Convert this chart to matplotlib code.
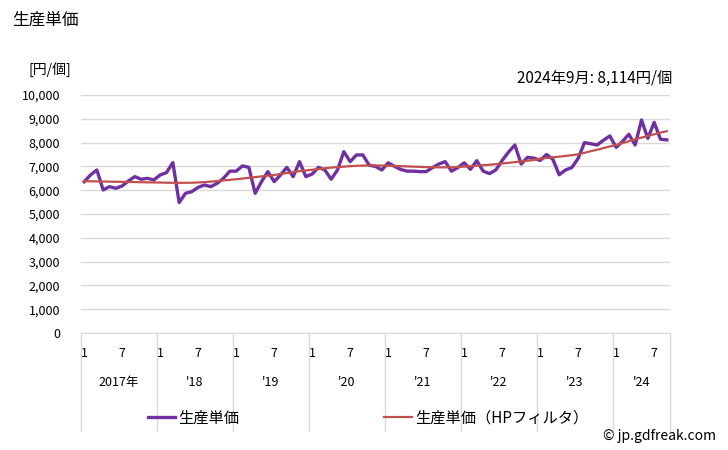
import matplotlib
matplotlib.use("Agg")
import matplotlib.pyplot as plt
import matplotlib.transforms as mtransforms
import numpy as np

plt.rcParams['font.family'] = ['Noto Sans CJK JP', 'DejaVu Sans']

# monthly unit price, Jan 2017 - Sep 2024 (yen / piece)
price = [
    6357, 6640, 6850, 6010, 6150, 6080, 6180, 6390, 6570, 6460, 6500, 6430,  # 2017
    6640, 6740, 7160, 5480, 5870, 5940, 6120, 6220, 6150, 6290, 6500, 6800,  # 2018
    6800, 7020, 6960, 5870, 6360, 6780, 6360, 6640, 6960, 6570, 7200, 6570,  # 2019
    6680, 6960, 6850, 6460, 6850, 7620, 7200, 7480, 7480, 7050, 7000, 6850,  # 2020
    7150, 7000, 6870, 6800, 6800, 6780, 6780, 6950, 7100, 7200, 6800, 6950,  # 2021
    7150, 6880, 7240, 6800, 6700, 6850, 7250, 7600, 7900, 7100, 7380, 7350,  # 2022
    7250, 7500, 7300, 6650, 6850, 6950, 7340, 8000, 7950, 7900, 8100, 8280,  # 2023
    7800, 8050, 8350, 7900, 8950, 8180, 8850, 8140, 8114,                    # 2024
]
# HP-filtered trend
price_hp = [
    6380, 6375, 6370, 6365, 6360, 6355, 6350, 6345, 6340, 6335, 6330, 6325,
    6320, 6315, 6312, 6310, 6310, 6315, 6325, 6340, 6360, 6385, 6410, 6435,
    6460, 6490, 6520, 6550, 6580, 6610, 6640, 6680, 6720, 6760, 6800, 6830,
    6860, 6890, 6920, 6950, 6970, 6990, 7010, 7025, 7035, 7040, 7040, 7035,
    7030, 7020, 7010, 7000, 6990, 6980, 6970, 6965, 6960, 6960, 6965, 6975,
    6990, 7010, 7030, 7050, 7070, 7095, 7120, 7150, 7180, 7210, 7240, 7270,
    7330, 7350, 7380, 7410, 7440, 7470, 7510, 7570, 7640, 7700, 7770, 7840,
    7900, 7980, 8060, 8140, 8210, 8280, 8350, 8420, 8480,
]
year_labels = ['2017年', "'18", "'19", "'20", "'21", "'22", "'23", "'24"]
month_labels = ['1', '7']
yticks = [0, 1000, 2000, 3000, 4000, 5000, 6000, 7000, 8000, 9000, 10000]

purple = '#7030A0'
red = '#C0504D'
grid_c = '#D9D9D9'

W, H = 728, 450
fig = plt.figure(figsize=(W / 100, H / 100), dpi=100)
left, right, top, bottom = 81, 670, 95, 333
ax = fig.add_axes([left / W, 1 - bottom / H, (right - left) / W, (bottom - top) / H])

n = len(price)
x = np.arange(n)
ax.plot(x, price, color=purple, lw=2.4, label='生産単価', zorder=3)
ax.plot(x, price_hp, color=red, lw=1.6, label='生産単価（HPフィルタ）', zorder=4)

ax.set_xlim(-0.5, n - 0.5)
ax.set_ylim(0, 10000)
ax.set_yticks(yticks)
ax.set_yticklabels([f'{v:,}' for v in yticks], fontsize=9)
ax.yaxis.grid(True, color=grid_c, lw=1)
ax.set_axisbelow(True)
ax.tick_params(axis='y', length=0, pad=15)
ax.tick_params(axis='x', length=0, labelbottom=False)
for s in ['top', 'right', 'left']:
    ax.spines[s].set_visible(False)
ax.spines['bottom'].set_color(grid_c)

# category axis: month numbers, years and separators
trans = mtransforms.blended_transform_factory(ax.transData, ax.transAxes)
for i, yl in enumerate(year_labels):
    start = i * 12
    end = min(start + 12, n)
    ax.plot([start - 0.5, start - 0.5], [0, -0.41], transform=trans, color=grid_c,
            lw=1, clip_on=False)
    for k, ml in enumerate(month_labels):
        m = start + k * 6
        if m < n:
            ax.text(m, -0.085, ml, transform=trans, ha='center', va='center', fontsize=9)
    ax.text((start + end - 1) / 2, -0.21, yl, transform=trans, ha='center', va='center',
            fontsize=9)
ax.plot([n - 0.5, n - 0.5], [0, -0.41], transform=trans, color=grid_c, lw=1, clip_on=False)

fig.text(12 / W, 1 - 20 / H, '生産単価', fontsize=12, ha='left', va='center')
fig.text(50 / W, 1 - 70 / H, '[円/個]', fontsize=10, ha='center', va='center')
fig.text(672 / W, 1 - 78 / H, f'2024年9月: {price[-1]:,}円/個', fontsize=11,
         ha='right', va='center')
fig.text(716 / W, 1 - 436 / H, '© jp.gdfreak.com', fontsize=10, ha='right', va='center')

fig.legend(loc='center', bbox_to_anchor=(368 / W, 1 - 418 / H), ncol=2, frameon=False,
           fontsize=11, handlelength=1.8, handletextpad=0.2, columnspacing=9.5)

fig.savefig('out.png', dpi=100)
